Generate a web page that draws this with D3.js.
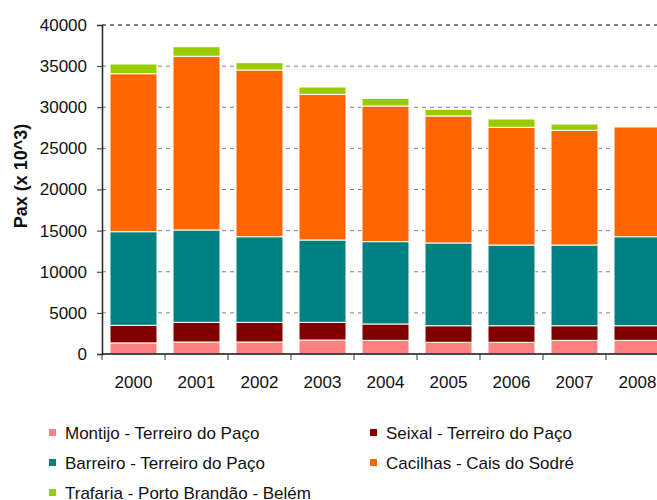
<!DOCTYPE html>
<html>
<head>
<meta charset="utf-8">
<script src="https://cdn.jsdelivr.net/npm/d3@7"></script>
<style>
  html, body { margin: 0; padding: 0; background: #fff; }
  svg { display: block; font-family: "Liberation Sans", Arial, sans-serif; }
</style>
</head>
<body>
<svg id="chart" width="657" height="500"></svg>
<script>
// Yearly passengers (thousands) per river-crossing route
const years = ["2000", "2001", "2002", "2003", "2004", "2005", "2006", "2007", "2008"];
const montijo  = [1350, 1460, 1460, 1700, 1660, 1420, 1420, 1660, 1660];
const seixal   = [2140, 2390, 2390, 2150, 1990, 2020, 2020, 1780, 1780];
const barreiro = [11380, 11230, 10410, 10010, 10010, 10060, 9810, 9810, 10820];
const cacilhas = [19210, 21120, 20270, 17710, 16490, 15440, 14310, 13950, 13340];
const trafaria = [1180, 1160, 890, 890, 940, 810, 1010, 760, 0];
const yTicks   = [0, 5000, 10000, 15000, 20000, 25000, 30000, 35000, 40000];

const seriesNames = [
  "Montijo - Terreiro do Paço",
  "Seixal - Terreiro do Paço",
  "Barreiro - Terreiro do Paço",
  "Cacilhas - Cais do Sodré",
  "Trafaria - Porto Brandão - Belém"
];
const seriesValues = [montijo, seixal, barreiro, cacilhas, trafaria];
const colors = ["#FF8080", "#800000", "#008080", "#FF6600", "#99CC00"];

const rows = years.map((yr, i) => {
  const r = { year: yr };
  seriesNames.forEach((n, k) => { r[n] = seriesValues[k][i]; });
  return r;
});

const svg = d3.select("#chart");
const plotLeft = 102, plotRight = 669, plotTop = 25, plotBottom = 354;

const x = d3.scaleBand().domain(years).range([plotLeft, plotRight])
  .paddingInner(0.254).paddingOuter(0.127);
const y = d3.scaleLinear().domain([0, 40000]).range([plotBottom, plotTop]);
const color = d3.scaleOrdinal().domain(seriesNames).range(colors);

// dashed horizontal gridlines
svg.append("g").selectAll("line")
  .data(yTicks.filter(t => t > 0))
  .join("line")
  .attr("x1", plotLeft).attr("x2", plotRight)
  .attr("y1", d => y(d)).attr("y2", d => y(d))
  .attr("stroke", d => d === 40000 ? "#555" : "#808080")
  .attr("stroke-width", d => d === 40000 ? 1.5 : 1)
  .attr("stroke-dasharray", "4,4");

// stacked bars
const stacked = d3.stack().keys(seriesNames)(rows);
svg.append("g").selectAll("g")
  .data(stacked)
  .join("g")
  .attr("fill", d => color(d.key))
  .selectAll("rect")
  .data(d => d.filter(s => s[1] - s[0] > 0))
  .join("rect")
  .attr("x", d => x(d.data.year))
  .attr("width", x.bandwidth())
  .attr("y", d => y(d[1]))
  .attr("height", d => y(d[0]) - y(d[1]))
  .attr("stroke", "#fff")
  .attr("stroke-width", 1);

// y axis
const yAxis = svg.append("g")
  .attr("transform", `translate(${plotLeft},0)`)
  .call(d3.axisLeft(y).tickValues(yTicks).tickSize(5).tickPadding(10).tickFormat(d3.format("d")));
yAxis.select(".domain").attr("stroke", "#222").attr("stroke-width", 1.5);
yAxis.selectAll(".tick line").attr("stroke", "#333");
yAxis.selectAll("text").attr("font-size", 17).attr("fill", "#111")
  .attr("font-family", "'Liberation Sans', Arial, sans-serif");

// x axis with ticks between categories
const xAxis = svg.append("g").attr("transform", `translate(0,${plotBottom})`);
xAxis.append("line").attr("x1", plotLeft).attr("x2", plotRight)
  .attr("stroke", "#111").attr("stroke-width", 1.5);
const bounds = years.map(d => x(d) - (x.step() - x.bandwidth()) / 2);
xAxis.selectAll(".xt").data(bounds).join("line")
  .attr("x1", d => d).attr("x2", d => d)
  .attr("y1", 0).attr("y2", 6)
  .attr("stroke", "#333").attr("stroke-width", 1);
xAxis.selectAll("text").data(years).join("text")
  .attr("x", d => x(d) + x.bandwidth() / 2)
  .attr("y", 34)
  .attr("text-anchor", "middle")
  .attr("font-size", 17).attr("fill", "#111")
  .text(d => d);

// y axis title
svg.append("text")
  .attr("transform", "translate(27,176) rotate(-90)")
  .attr("text-anchor", "middle")
  .attr("font-size", 18).attr("font-weight", "bold").attr("fill", "#111")
  .text("Pax (x 10^3)");

// legend, two columns
const legend = svg.append("g").selectAll("g")
  .data(seriesNames)
  .join("g")
  .attr("transform", (d, i) => `translate(${i % 2 === 0 ? 49 : 370},${439 + Math.floor(i / 2) * 30})`);
legend.append("rect")
  .attr("x", 0).attr("y", -10).attr("width", 7).attr("height", 7)
  .attr("fill", d => color(d));
legend.append("text")
  .attr("x", 16).attr("y", 0)
  .attr("font-size", 17).attr("fill", "#111")
  .text(d => d);
</script>
</body>
</html>
